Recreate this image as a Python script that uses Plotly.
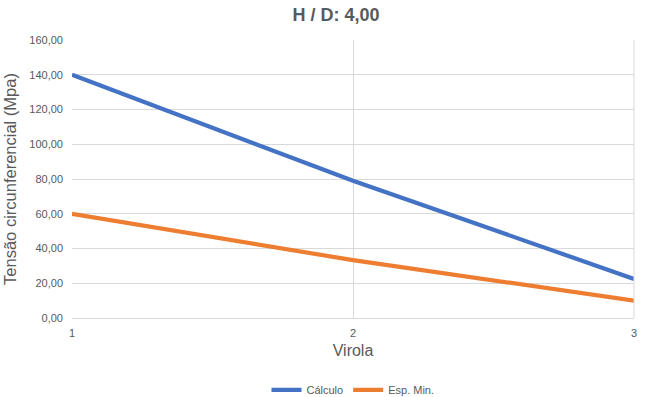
import plotly.graph_objects as go

virola = [1, 2, 3]
calculo = [140.0, 79.0, 22.5]
esp_min = [60.0, 33.3, 10.0]
y_ticks = [0, 20, 40, 60, 80, 100, 120, 140, 160]

fig = go.Figure()
fig.add_trace(go.Scatter(x=virola, y=calculo, mode="lines", name="Cálculo",
                         line=dict(color="#4472C4", width=4.2)))
fig.add_trace(go.Scatter(x=virola, y=esp_min, mode="lines", name="Esp. Min.",
                         line=dict(color="#ED7D31", width=4.2)))

fig.update_layout(
    width=646, height=397,
    paper_bgcolor="white", plot_bgcolor="white",
    separators=",.",
    font=dict(family="Liberation Sans, Arial, sans-serif", color="#595959"),
    title=dict(text="<b>H / D: 4,00</b>", x=0.52, xanchor="center",
               yref="container", y=0.963, yanchor="middle", automargin=False,
               font=dict(size=18, color="#595959")),
    margin=dict(l=72, r=12, t=40, b=79, autoexpand=False),
    legend=dict(orientation="h", x=0.5, xanchor="center",
                yref="container", y=0.018, yanchor="middle",
                font=dict(size=11, color="#595959")),
    showlegend=True,
)
fig.update_xaxes(
    range=[1, 3], tickvals=virola, ticktext=[str(v) for v in virola],
    showgrid=True, gridcolor="#D9D9D9", gridwidth=1,
    showline=True, linecolor="#D9D9D9", mirror=False,
    zeroline=False, ticks="", ticklabelstandoff=5, automargin=False,
    tickfont=dict(size=11, color="#595959"),
    title=dict(text="Virola", font=dict(size=16, color="#595959"), standoff=6),
)
fig.update_yaxes(
    range=[0, 160], tickvals=y_ticks, tickformat=".2f",
    showgrid=True, gridcolor="#D9D9D9", gridwidth=1,
    zeroline=False, showline=False, ticks="", ticklabelstandoff=8, automargin=False,
    tickfont=dict(size=11, color="#595959"),
    title=dict(text="Tensão circunferencial (Mpa)", font=dict(size=16.5, color="#595959"), standoff=8),
)
fig.add_shape(type="line", xref="paper", yref="paper", x0=1, x1=1, y0=0, y1=1,
              line=dict(color="#D9D9D9", width=1))

fig.write_html("out.html", config={"displayModeBar": False},
               post_script="document.body.style.margin='0';")
